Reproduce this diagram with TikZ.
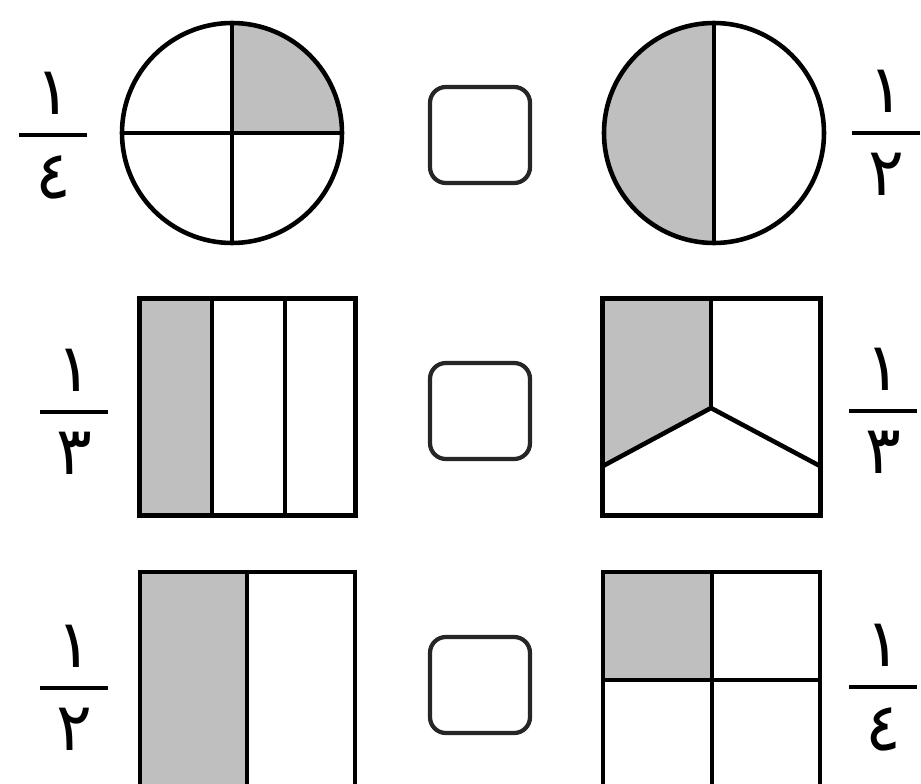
\documentclass[tikz,border=0pt]{standalone}
\usepackage{fontspec}
\newfontfamily\arabicfont[Script=Arabic]{DejaVu Sans}
\usetikzlibrary{positioning}
\tikzset{
  part/.style={draw=black, line width=2.6pt, line join=miter},
  shaded/.style={fill=black!25},
  answer/.style={rectangle, draw=black!85, line width=2.4pt, rounded corners=9pt,
                 minimum width=2.0cm, minimum height=1.92cm, inner sep=0pt},
  digit/.style={font=\arabicfont\fontsize{38}{38}\selectfont, inner sep=0pt},
  bar/.style={draw=black, line width=2.8pt},
}

\begin{document}
\begin{tikzpicture}[x=0.02cm, y=-0.02cm]
  \useasboundingbox[fill=white] (0,0) rectangle (921,784);
  \clip (0,0) rectangle (921,784);

  % Row 1: circles
  \node[circle, minimum size=4.4cm, inner sep=0pt] (quarters) at (232,133) {};
  \fill[shaded] (quarters.center) -- (quarters.north) arc[start angle=-90, end angle=0, radius=110] -- cycle;
  \draw[part] (quarters.center) circle[radius=110];
  \draw[part] (quarters.north) -- (quarters.south);
  \draw[part] (quarters.west) -- (quarters.east);

  \node[circle, minimum size=4.4cm, inner sep=0pt] (halves) at (714,133) {};
  \fill[shaded] (halves.north) arc[start angle=270, end angle=90, radius=110] -- cycle;
  \draw[part] (halves.center) circle[radius=110];
  \draw[part] (halves.north) -- (halves.south);

  % Row 2: thirds
  \node[rectangle, minimum width=4.3cm, minimum height=4.32cm, inner sep=0pt] (strips) at (247.5,407) {};
  \fill[shaded] (strips.north west) rectangle (212,515);
  \draw[part] (strips.north west) rectangle (strips.south east);
  \draw[part] (212,299) -- (212,515);
  \draw[part] (285,299) -- (285,515);

  \node[rectangle, minimum width=4.34cm, minimum height=4.32cm, inner sep=0pt] (wedges) at (711.5,407) {};
  \coordinate (hub) at (711,408);
  \fill[shaded] (wedges.north west) -- (711,299) -- (hub) -- (603,466) -- cycle;
  \draw[part] (wedges.north west) rectangle (wedges.south east);
  \draw[part] (711,299) -- (hub);
  \draw[part] (603,466) -- (hub) -- (820,466);

  % Row 3: halves and quarters (cut at the bottom)
  \draw[part, shaded] (140,572) rectangle (247,800);
  \draw[part] (247,572) rectangle (355,800);

  \fill[shaded] (603,572) rectangle (712,680);
  \draw[part] (603,572) rectangle (820,800);
  \draw[part] (712,572) -- (712,800);
  \draw[part] (603,680) -- (820,680);

  % Empty boxes for the answers
  \foreach \y/\name in {135/box1, 411/box2, 685/box3}
    \node[answer] (\name) at (480,\y) {};

  % Fractions
  \foreach \x/\y/\n/\d/\name in {53/135/١/٤/fracA, 886/133/١/٢/fracB,
                                 74/412/١/٣/fracC, 883/411/١/٣/fracD,
                                 74/688/١/٢/fracE, 883/687/١/٤/fracF}{
    \coordinate (\name) at (\x,\y);
    \draw[bar] ([xshift=-0.68cm]\name) -- ([xshift=0.68cm]\name);
    \node[digit, above=0.4cm of \name] (\name-num) {\n};
    \node[digit, below=0.4cm of \name] (\name-den) {\d};
  }
\end{tikzpicture}
\end{document}
